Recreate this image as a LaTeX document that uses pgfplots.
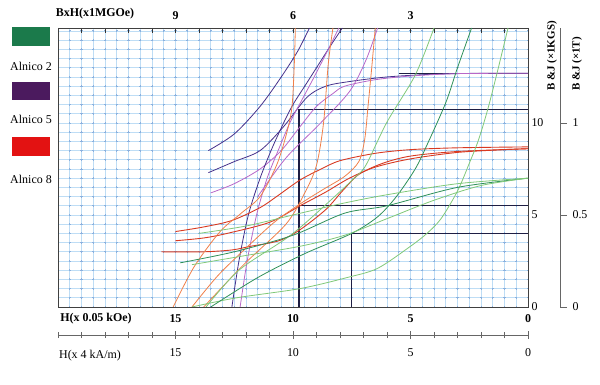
\documentclass[border=0pt]{standalone}
\usepackage{fontspec}
\setmainfont{Liberation Serif}
\usepackage{pgfplots}
\pgfplotsset{compat=1.18}
\definecolor{gridblue}{HTML}{BEDDF5}
\definecolor{dotblue}{HTML}{5A8ED0}
\definecolor{darkline}{HTML}{1E1E44}
\definecolor{pur}{HTML}{45308A}
\definecolor{pinkp}{HTML}{B868C8}
\definecolor{redl}{HTML}{D83A22}
\definecolor{orangel}{HTML}{F0804A}
\definecolor{grn}{HTML}{2E9058}
\definecolor{grnl}{HTML}{80C878}
\definecolor{leggreen}{HTML}{1B7A4B}
\definecolor{legpurple}{HTML}{4B1A5E}
\definecolor{legred}{HTML}{E31212}
\pgfplotsset{
  base/.style={at={(0bp,0bp)},anchor=south west,scale only axis,width=470bp,height=279bp,
    xmin=0,xmax=20,ymin=0,ymax=15.16,x dir=reverse},
}
\begin{document}
\begin{tikzpicture}[x=1bp,y=1bp,font=\fontsize{12}{14}\selectfont]
\useasboundingbox (-58bp,-78bp) rectangle (542bp,307bp);
% light grid
\begin{axis}[base,xtick={0,0.5,...,20},ytick={0,0.5,...,15},xticklabels={},yticklabels={},
  major tick length=0pt,grid=major,major grid style={gridblue,line width=0.7bp},axis line style={draw=none}]
\end{axis}
% darker dots at grid crossings
\begin{axis}[base,xtick={0,0.5,...,20},ytick={0,0.5,...,15},xticklabels={},yticklabels={},
  major tick length=0pt,grid=major,axis line style={draw=none},
  major x grid style={dotblue!70,line width=0.9bp,dash pattern=on 2bp off 7.2bp,dash phase=1bp},
  major y grid style={dotblue!70,line width=0.9bp,dash pattern=on 2.4bp off 9.35bp,dash phase=1.2bp}]
\end{axis}
% top ticks and BH labels
\begin{axis}[base,axis x line*=top,hide y axis,xtick={5,10,15},xticklabels={3,6,9},
  minor xtick={0,1,...,20},tick align=inside,major tick length=5bp,minor tick length=5bp,
  tick style={black!80,line width=0.8bp},xticklabel style={font=\fontsize{12}{14}\selectfont\bfseries,yshift=5bp}]
\end{axis}
% main axis with curves
\begin{axis}[base,axis line style={black!75,line width=0.8bp},
  xtick={0,5,10,15},xticklabels={0,5,10,15},ytick={0,5,10},yticklabels={0,5,10},
  ytick pos=right,yticklabel pos=right,xtick pos=bottom,major tick length=0pt,
  xticklabel style={font=\fontsize{12}{14}\selectfont\bfseries,yshift=-4bp},
  yticklabel style={font=\fontsize{12}{14}\selectfont},
  clip=true]
% dark operating-point lines
\addplot[darkline,line width=1.3bp] coordinates {(5.5,12.7) (0,12.7)};
\addplot[darkline,line width=1.3bp] coordinates {(9.75,0) (9.75,10.75) (0,10.75)};
\addplot[darkline,line width=1.3bp] coordinates {(9.75,5.5) (0,5.5)};
\addplot[darkline,line width=1.3bp] coordinates {(7.5,0) (7.5,4.0) (0,4.0)};
% Alnico 5 (purple)
\addplot[pur,line width=0.8bp,smooth] coordinates {(13.6,8.5) (12.5,9.4) (11.4,10.9) (10.5,12.5) (9.8,13.9) (9.3,15.16)};
\addplot[pur,line width=0.8bp,smooth] coordinates {(13.6,7.3) (12.5,7.9) (11.4,8.5) (10.4,9.8) (9.4,11.4) (8.6,12.0) (7.6,12.25) (6,12.5) (4,12.65) (2,12.7) (0,12.7)};
\addplot[pinkp,line width=0.8bp,smooth] coordinates {(13.5,6.2) (12.5,6.7) (11.4,7.5) (10.5,8.5) (9.7,9.8) (9,10.9) (8.3,11.6) (7.8,12.0) (6.5,12.35) (5,12.55) (3,12.68) (0,12.7)};
\addplot[pur,line width=0.8bp,smooth] coordinates {(12.6,0) (12.3,2.5) (11.9,5) (11.4,7) (10.9,8.6) (10.4,10.0) (10.0,11.0) (9.5,12.0) (9.0,13.0) (8.4,14.2) (7.9,15.16)};
\addplot[pinkp,line width=0.8bp,smooth] coordinates {(12.25,0) (11.95,2.5) (11.55,5) (11.1,7) (10.6,8.6) (10.1,10.1) (9.6,11.3) (9.1,12.5) (8.5,14.0) (8.05,15.16)};
\addplot[pinkp,line width=0.8bp,smooth] coordinates {(11.5,6.0) (10.3,8.1) (8.9,9.9) (7.6,11.7) (6.9,13.4) (6.4,15.16)};
% Alnico 8 (red)
\addplot[redl,line width=0.9bp,smooth] coordinates {(15,4.1) (13.8,4.35) (12.6,4.7) (11.4,5.4) (10.7,6.0) (9.7,6.9) (8.8,7.5) (8.0,7.95) (6.5,8.35) (5,8.55) (3,8.65) (0,8.7)};
\addplot[redl,line width=0.9bp,smooth] coordinates {(15,3.6) (13.8,3.75) (12.8,4.0) (11,4.6) (9.7,5.5) (8.6,6.25) (7.6,7.0) (6.5,7.6) (5,8.05) (3,8.4) (1,8.55) (0,8.6)};
\addplot[redl,line width=0.9bp,smooth] coordinates {(15.6,3.0) (13.8,3.0) (12.6,3.1) (11.8,3.3) (10.6,3.6) (9.7,4.2) (8.6,5.3) (7.9,6.3) (7.2,7.2) (6.2,7.8) (5,8.2) (3,8.45) (0,8.6)};
\addplot[orangel,line width=0.8bp,smooth] coordinates {(15.1,0) (14.2,2.2) (13.1,4.1) (12.2,5.1) (11.4,6.0) (10.7,7.7) (10.3,9.3) (10.05,10.8) (9.95,13) (9.9,15.16)};
\addplot[orangel,line width=0.8bp,smooth] coordinates {(14.3,0) (13.2,1.7) (12,3.2) (10.8,4.6) (9.7,5.6) (8.7,6.4) (7.8,7.1) (7.2,7.9) (6.95,9.1) (6.8,11.0) (6.65,13.0) (6.5,15.16)};
\addplot[orangel,line width=0.8bp,smooth] coordinates {(13.8,0) (12.1,2.3) (10.3,4.5) (9.5,6.2) (9.0,7.7) (8.7,10.0) (8.5,13.2) (8.3,15.16)};
% Alnico 2 (green)
\addplot[grnl,line width=0.8bp,smooth] coordinates {(14.3,0) (12.4,0.5) (9.7,1.0) (7.7,1.6) (6.4,2.1) (5.0,3.3) (4.3,4.0) (3.7,4.8) (3.0,6.3) (2.5,7.8) (2.1,9.1) (1.7,10.8) (1.3,12.8) (0.85,15.16)};
\addplot[grn,line width=0.8bp,smooth] coordinates {(13.5,0) (11.5,1.6) (9.5,2.9) (7.5,4.0) (6.4,4.9) (5.6,6.0) (4.8,7.5) (4.3,8.8) (3.5,11.1) (3.0,13.0) (2.4,15.16)};
\addplot[grnl,line width=0.8bp,smooth] coordinates {(13.7,0) (12.3,2.0) (10.1,3.9) (8.4,5.8) (7.4,7.0) (6.9,7.7) (6.0,10.05) (4.8,12.6) (4.0,15.16)};
\addplot[grn,line width=0.8bp,smooth] coordinates {(14.8,2.4) (12.5,3.0) (10,3.9) (7.8,5.1) (6.0,5.5) (3.0,6.5) (0,7.0)};
\addplot[grnl,line width=0.8bp,smooth] coordinates {(14.3,2.3) (12,2.8) (9.7,3.3) (7.8,3.9) (6.0,4.8) (4,5.8) (2,6.6) (0,7.0)};
\addplot[grnl,line width=0.8bp,smooth] coordinates {(14.0,4.0) (12,4.4) (10,5.0) (8,5.6) (6,6.1) (3,6.7) (0,7.0)};
\end{axis}
% second bottom axis (kA/m)
\begin{axis}[at={(0bp,-28bp)},anchor=south west,scale only axis,width=470bp,height=10bp,
  xmin=0,xmax=20,ymin=0,ymax=1,x dir=reverse,hide y axis,axis x line*=bottom,
  axis line style={black!60,line width=0.7bp,-},
  xtick={0,5,10,15},xticklabels={0,5,10,15},minor xtick={0,1,...,20},
  tick align=center,major tick length=8bp,minor tick length=6bp,tick style={black!60,line width=0.7bp},
  xticklabel style={yshift=-6bp}]
\end{axis}
% Tesla axis
\begin{axis}[at={(502bp,0bp)},anchor=south east,scale only axis,width=10bp,height=279bp,
  xmin=0,xmax=1,ymin=0,ymax=1.516,hide x axis,axis y line*=right,
  axis line style={black!60,line width=0.7bp,-},
  ytick={0,0.5,1},yticklabels={0,0.5,1},tick align=outside,major tick length=7bp,
  tick style={black!60,line width=0.7bp},yticklabel style={xshift=2bp}]
\end{axis}
% texts
\node[font=\fontsize{12}{14}\selectfont\bfseries] at (37bp,293bp) {BxH(x1MGOe)};
\node[font=\fontsize{12}{14}\selectfont\bfseries] at (38bp,-12bp) {H(x 0.05 kOe)};
\node at (32bp,-49bp) {H(x 4 kA/m)};
\node[rotate=90,font=\fontsize{11}{13}\selectfont\bfseries] at (494bp,251bp) {B \&J (×1KGS)};
\node[rotate=90,font=\fontsize{11}{13}\selectfont\bfseries] at (519bp,243bp) {B \&J (×1T)};
% legend
\fill[leggreen] (-46bp,261bp) rectangle (-8bp,280bp);
\node at (-27bp,241bp) {Alnico 2};
\fill[legpurple] (-46bp,207bp) rectangle (-8bp,225bp);
\node at (-27bp,188bp) {Alnico 5};
\fill[legred] (-46bp,151bp) rectangle (-8bp,170bp);
\node at (-27bp,128bp) {Alnico 8};
\end{tikzpicture}
\end{document}
